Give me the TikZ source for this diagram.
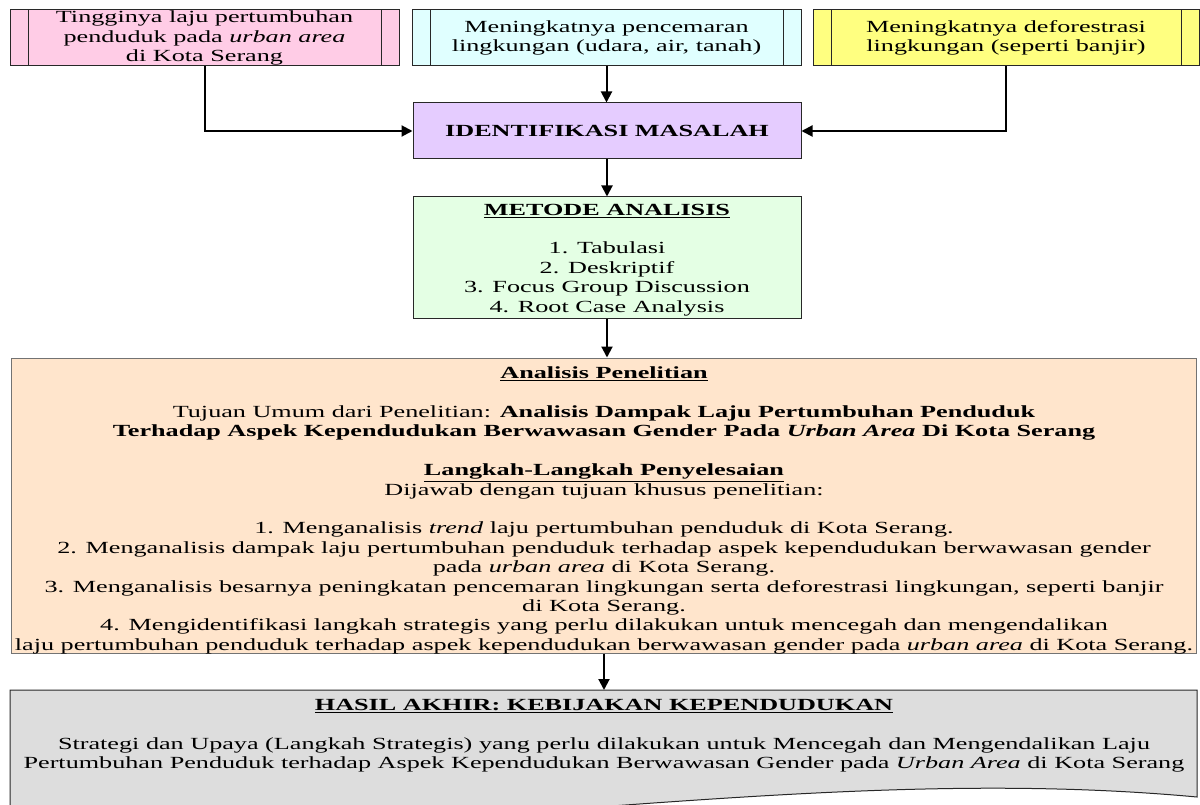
\documentclass[tikz,border=0pt]{standalone}
\usepackage{fontspec}
\setmainfont{Liberation Serif}[FakeStretch=1.54]
\usetikzlibrary{arrows.meta}
\definecolor{pinkf}{RGB}{255,204,230}
\definecolor{cyanf}{RGB}{224,255,255}
\definecolor{yellowf}{RGB}{255,255,128}
\definecolor{purplef}{RGB}{229,204,255}
\definecolor{greenf}{RGB}{228,255,228}
\definecolor{orangef}{RGB}{255,229,204}
\definecolor{grayf}{RGB}{221,221,221}
\definecolor{edge}{RGB}{40,40,40}
\begin{document}
\begin{tikzpicture}[x=1pt,y=-1pt,
  txt/.style={font=\fontsize{17}{19.4}\selectfont,align=center},
  box/.style={txt,draw=edge,line width=1pt,inner sep=0pt},
  conn/.style={line width=2pt,-{Triangle[length=11pt,width=11pt]}},
  sideline/.style={draw=edge,line width=1pt}]
\useasboundingbox (0,0) rectangle (1200,805);
% top boxes (predefined process)
\node[box,fill=pinkf,minimum width=389pt,minimum height=56pt] (pink) at (204.5,38)
  {Tingginya laju pertumbuhan\\penduduk pada \textit{urban area}\\di Kota Serang};
\node[box,fill=cyanf,minimum width=389pt,minimum height=56pt] (cyan) at (606.5,38)
  {Meningkatnya pencemaran\\lingkungan (udara, air, tanah)};
\node[box,fill=yellowf,minimum width=386pt,minimum height=56pt] (yellow) at (1006,38)
  {Meningkatnya deforestrasi\\lingkungan (seperti banjir)};
\foreach \n in {pink,cyan,yellow}{
  \draw[sideline] ([xshift=19pt]\n.north west) -- ([xshift=19pt]\n.south west);
  \draw[sideline] ([xshift=-18pt]\n.north east) -- ([xshift=-18pt]\n.south east);
}
% identification
\node[box,fill=purplef,minimum width=388pt,minimum height=56pt] (ident) at (607,131)
  {\textbf{IDENTIFIKASI MASALAH}};
% method
\node[box,fill=greenf,minimum width=388pt,minimum height=121pt] (metode) at (607,257.5) {};
\node[txt] (metodetext) at (607,260)
  {\textbf{\underline{METODE ANALISIS}}\\[19pt]
   1. Tabulasi\\2. Deskriptif\\3. Focus Group Discussion\\4. Root Case Analysis};
% analysis
\node[box,draw=black!55,fill=orangef,minimum width=1185pt,minimum height=295pt] (big) at (603.5,505.5) {};
\node[txt] (bigtext) at (604,510.5)
  {\textbf{\underline{Analisis Penelitian}}\\[19.4pt]
   Tujuan Umum dari Penelitian: \textbf{Analisis Dampak Laju Pertumbuhan Penduduk}\\
   \textbf{Terhadap Aspek Kependudukan Berwawasan Gender Pada \textit{Urban Area} Di Kota Serang}\\[19.4pt]
   \textbf{\underline{Langkah-Langkah Penyelesaian}}\\
   Dijawab dengan tujuan khusus penelitian:\\[19.4pt]
   1. Menganalisis \textit{trend} laju pertumbuhan penduduk di Kota Serang.\\
   2. Menganalisis dampak laju pertumbuhan penduduk terhadap aspek kependudukan berwawasan gender\\
   pada \textit{urban area} di Kota Serang.\\
   3. Menganalisis besarnya peningkatan pencemaran lingkungan serta deforestrasi lingkungan, seperti banjir\\
   di Kota Serang.\\
   4. Mengidentifikasi langkah strategis yang perlu dilakukan untuk mencegah dan mengendalikan\\
   laju pertumbuhan penduduk terhadap aspek kependudukan berwawasan gender pada \textit{urban area} di Kota Serang.};
% final document shape
\draw[draw=edge,line width=1pt,fill=grayf] (10,690) -- (1197,690) -- (1197,797)
  .. controls (850,765) and (500,830) .. (10,840) -- cycle;
\coordinate (doctop) at (604,690);
\node[txt] (hasil) at (604,736)
  {\textbf{\underline{HASIL AKHIR: KEBIJAKAN KEPENDUDUKAN}}\\[19.4pt]
   Strategi dan Upaya (Langkah Strategis) yang perlu dilakukan untuk Mencegah dan Mengendalikan Laju\\
   Pertumbuhan Penduduk terhadap Aspek Kependudukan Berwawasan Gender pada \textit{Urban Area} di Kota Serang};
% connectors
\draw[conn] (pink.south) |- (ident.west);
\draw[conn] (yellow.south) |- (ident.east);
\draw[conn] (cyan.south) -- (cyan.south |- ident.north);
\draw[conn] (ident.south) -- (metode.north);
\draw[conn] (metode.south) -- (metode.south |- big.north);
\draw[conn] (big.south -| doctop) -- (doctop);
\end{tikzpicture}
\end{document}
